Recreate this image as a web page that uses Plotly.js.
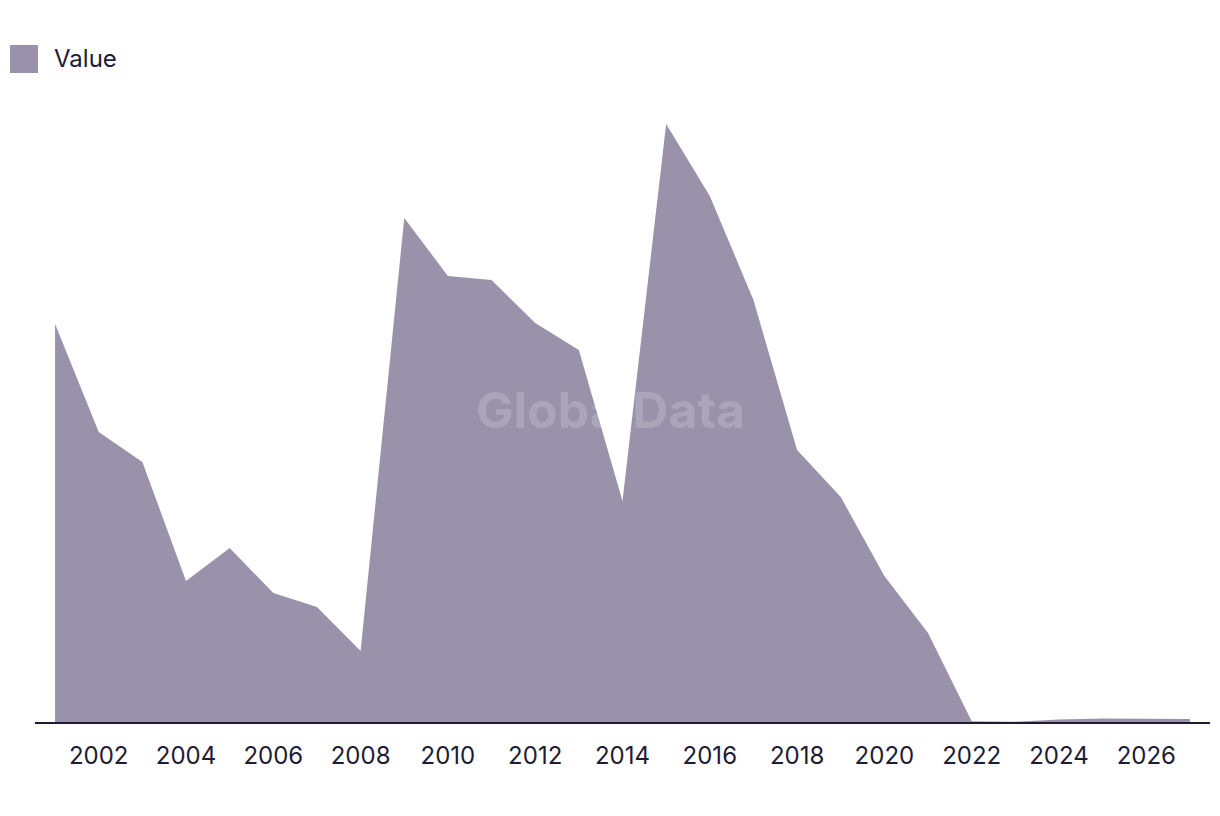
<!DOCTYPE html>
<html>
<head>
<meta charset="utf-8">
<script src="https://cdn.plot.ly/plotly-3.0.1.min.js"></script>
<style>html,body{margin:0;padding:0;background:#fff;}#chart{width:1220px;height:816px;}</style>
</head>
<body>
<div id="chart"></div>
<script>
const years = [2001,2002,2003,2004,2005,2006,2007,2008,2009,2010,2011,2012,2013,2014,2015,2016,2017,2018,2019,2020,2021,2022,2023,2024,2025,2026,2027];
const values = [398,290,260,141,174,129,115,71,504,446,442,399,372,221,598,526,422,272,225,146,89,0.8,0.3,2.5,3.5,3.3,3];
const tickYears = [2002,2004,2006,2008,2010,2012,2014,2016,2018,2020,2022,2024,2026];
const seriesName = "Value";

const fillColor = "#9a91aa";
const textColor = "#1e1b33";
const font = "Inter, 'Liberation Sans', sans-serif";

const trace = {
  x: years, y: values, type: "scatter", mode: "lines",
  fill: "tozeroy", fillcolor: fillColor,
  line: {color: fillColor, width: 0},
  name: seriesName, showlegend: false, hoverinfo: "x+y"
};

const layout = {
  width: 1220, height: 816,
  margin: {l: 35, r: 10, t: 72, b: 94},
  paper_bgcolor: "#fff", plot_bgcolor: "#fff",
  font: {family: font, color: textColor, size: 24},
  showlegend: false,
  xaxis: {
    range: [2000.54, 2027.46], tickvals: tickYears, ticktext: tickYears.map(String),
    showgrid: false, zeroline: false, showline: true, linecolor: textColor, linewidth: 1.5,
    ticks: "", ticklabelstandoff: 12, tickfont: {size: 24, color: textColor, family: font}
  },
  yaxis: {
    range: [0, 650], showgrid: false, zeroline: false, showline: false,
    showticklabels: false, ticks: ""
  },
  shapes: [
    {type: "rect", xref: "paper", yref: "paper", xsizemode: "pixel", ysizemode: "pixel",
     xanchor: 0, yanchor: 1, x0: -25, x1: 3, y0: 27, y1: -1,
     fillcolor: fillColor, line: {width: 0}}
  ],
  annotations: [
    {xref: "paper", yref: "paper", x: 0.017, xshift: -3, y: 1, yshift: 14, text: seriesName, showarrow: false,
     xanchor: "left", yanchor: "middle", font: {size: 24, color: textColor, family: font}},
    {xref: "paper", yref: "paper", x: 0.49, y: 0.48, text: "<b>GlobalData</b>", showarrow: false,
     font: {size: 50, color: "rgba(255,255,255,0.18)", family: font}}
  ]
};

Plotly.newPlot("chart", [trace], layout, {displayModeBar: false, staticPlot: true});
</script>
</body>
</html>
